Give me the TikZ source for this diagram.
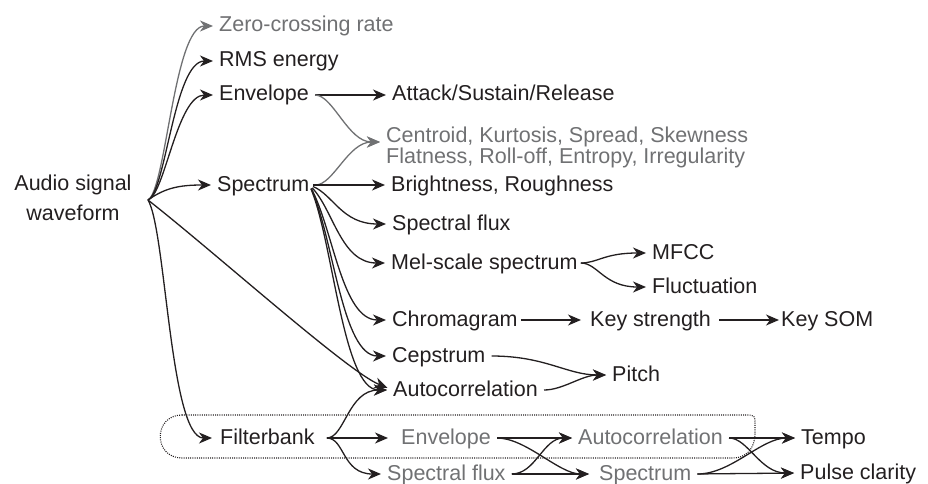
\documentclass[tikz,border=0pt]{standalone}
\usepackage{fontspec}
\setmainfont{Liberation Sans}
\usetikzlibrary{arrows.meta}
\definecolor{ink}{HTML}{231F20}
\definecolor{dim}{HTML}{707173}

\begin{document}
\begin{tikzpicture}[x=1pt,y=-1pt,>={Stealth[length=13pt,width=11pt,inset=4pt]},
  base/.style={inner sep=0pt,text=ink,font=\fontsize{21.5}{20}\selectfont},
  feat/.style={base,anchor=west,text height=15pt,text depth=3pt},
  faint/.style={text=dim},
  conn/.style={->,ink,line width=1.3pt,shorten <=6pt,shorten >=6pt},
  conndim/.style={conn,dim},
  groupbox/.style={ink,line width=1.1pt,dash pattern=on 1pt off 1.2pt}]
  \useasboundingbox (0,0) rectangle (928,484);
  %
  % Source
  \node[base,align=center,font=\fontsize{21.5}{30}\selectfont] (wav) at (73,198) {Audio signal\\waveform};
  \coordinate (w) at (148,200);
  %
  % Features
  \node[feat,faint] (zcr) at (219,26) {Zero-crossing rate};
  \node[feat] (rms) at (219,61) {RMS energy};
  \node[feat] (env) at (219,95) {Envelope};
  \node[feat] (ats) at (392,95) {Attack/Sustain/Release};
  \node[base,faint,anchor=west,align=left] (ctr) at (386,147)
    {Centroid, Kurtosis, Spread, Skewness\\Flatness, Roll-off, Entropy, Irregularity};
  \node[feat] (spec) at (217,185) {Spectrum};
  \node[feat] (bri) at (391,185) {Brightness, Roughness};
  \node[feat] (sfx) at (392,224) {Spectral flux};
  \node[feat] (mel) at (391,263) {Mel-scale spectrum};
  \node[feat] (mfcc) at (652,253) {MFCC};
  \node[feat] (flu) at (652,287) {Fluctuation};
  \node[feat] (chr) at (392,320) {Chromagram};
  \node[feat] (key) at (590,320) {Key strength};
  \node[feat] (som) at (781,320) {Key SOM};
  \node[feat] (cep) at (392,356) {Cepstrum};
  \node[feat] (pitch) at (612,375) {Pitch};
  \node[feat] (acr) at (393,390) {Autocorrelation};
  %
  % Filterbank chain
  \node[feat] (fb) at (220,438) {Filterbank};
  \node[feat,faint] (fenv) at (401,438) {Envelope};
  \node[feat,faint] (facr) at (578,438) {Autocorrelation};
  \node[feat] (tempo) at (801,438) {Tempo};
  \node[feat,faint] (fsfx) at (387,474) {Spectral flux};
  \node[feat,faint] (fspec) at (599,474) {Spectrum};
  \node[feat] (pulse) at (800,473) {Pulse clarity};
  %
  % Group outline
  \draw[groupbox] (182,415) -- (745,415) .. controls (755,415) .. (755,425) -- (755,433)
    .. controls (755,450) and (745,458) .. (733,458) -- (182,458)
    .. controls (153,458) and (153,415) .. cycle;
  %
  % From the waveform
  \draw[conndim,shorten <=0pt] (w) .. controls +(18,-10) and +(-45,0) .. (zcr.west);
  \draw[conn,shorten <=0pt] (w) .. controls +(18,-8) and +(-45,0) .. (rms.west);
  \draw[conn,shorten <=0pt] (w) .. controls +(17,-6) and +(-42,0) .. (env.west);
  \draw[conn,shorten <=0pt] (w) .. controls +(17,-12) and +(-38,0) .. (spec.west);
  \draw[conn,shorten <=0pt] (w) .. controls +(70,55) and +(-45,-18) .. (acr.west);
  \draw[conn,shorten <=0pt,shorten >=8pt] (w) .. controls +(18,30) and +(-50,0) .. (fb.west);
  %
  % Envelope and spectrum
  \draw[conn] (env.east) -- (ats.west);
  \draw[conndim] (env.east) .. controls +(24,0) and +(-38,0) .. ([yshift=5pt]ctr.west);
  \draw[conndim] (spec.east) .. controls +(24,0) and +(-38,0) .. ([yshift=5pt]ctr.west);
  \draw[conn,shorten <=4pt] (spec.east) -- (bri.west);
  \foreach \t/\d in {sfx/10,mel/25,chr/45,cep/52,acr/58}
    \draw[conn,shorten <=4pt] (spec.east) .. controls +(24,\d) and +(-50,0) .. (\t.west);
  %
  % Second level
  \draw[conn,shorten <=3pt] (mel.east) .. controls +(20,0) and +(-48,0) .. (mfcc.west);
  \draw[conn,shorten <=3pt] (mel.east) .. controls +(20,0) and +(-48,0) .. (flu.west);
  \draw[conn,shorten <=3pt,shorten >=9pt] (chr.east) -- (key.west);
  \draw[conn,shorten <=8pt,shorten >=2pt] (key.east) -- (som.west);
  \draw[conn] (cep.east) .. controls +(60,0) and +(-45,0) .. (pitch.west);
  \draw[conn] (acr.east) .. controls +(25,0) and +(-30,0) .. (pitch.west);
  %
  % Filterbank
  \draw[conn,shorten <=12pt] (fb.east) .. controls +(30,0) and +(-45,0) .. (acr.west);
  \draw[conn,shorten <=12pt,shorten >=13pt] (fb.east) -- (fenv.west);
  \draw[conn,shorten <=12pt] (fb.east) .. controls +(30,0) and +(-45,0) .. (fsfx.west);
  \draw[conn] (fenv.east) -- (facr.west);
  \draw[conn,shorten >=10pt] (fenv.east) .. controls +(35,0) and +(-40,0) .. (fspec.west);
  \draw[conn,shorten >=10pt] (fsfx.east) -- (fspec.west);
  \draw[conn] (fsfx.east) .. controls +(30,0) and +(-35,0) .. (facr.west);
  \draw[conn] (facr.east) -- (tempo.west);
  \draw[conn] (facr.east) .. controls +(25,0) and +(-40,0) .. (pulse.west);
  \draw[conn] (fspec.east) -- (pulse.west);
  \draw[conn] (fspec.east) .. controls +(40,0) and +(-40,0) .. (tempo.west);
\end{tikzpicture}
\end{document}
